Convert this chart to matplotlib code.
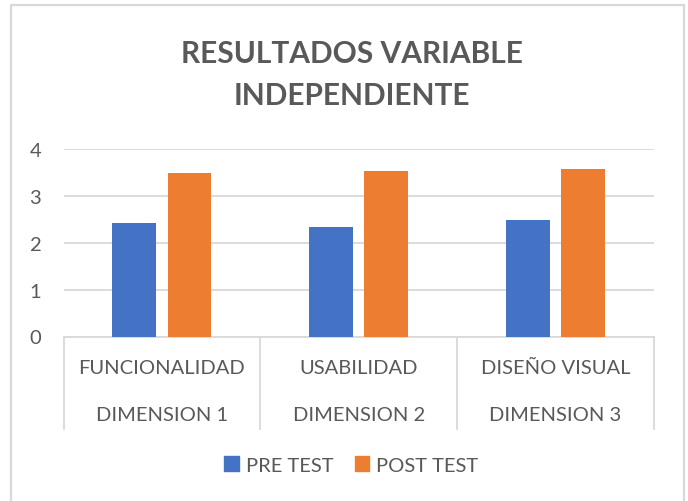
import matplotlib
matplotlib.use("Agg")
from matplotlib import pyplot as plt
from matplotlib.patches import Patch, Rectangle
import numpy as np

categories = ["FUNCIONALIDAD", "USABILIDAD", "DISEÑO VISUAL"]
dimensions = ["DIMENSION 1", "DIMENSION 2", "DIMENSION 3"]
pre_test = [2.42, 2.35, 2.50]
post_test = [3.49, 3.53, 3.57]
series_names = ["PRE TEST", "POST TEST"]
title_lines = ["RESULTADOS VARIABLE", "INDEPENDIENTE"]

blue = "#4472C4"
orange = "#ED7D31"
text_gray = "#595959"
grid_gray = "#D9D9D9"

plt.rcParams["font.family"] = ["Lato", "DejaVu Sans"]

fig = plt.figure(figsize=(6.88, 5.02), dpi=100)
fig.patch.set_facecolor("white")
fig.patches.append(Rectangle((11.5 / 688, -0.01), (683.5 - 11.5) / 688, 1 - 6 / 502 + 0.01,
                             transform=fig.transFigure, fill=False,
                             edgecolor=grid_gray, linewidth=1.6))

ax = fig.add_axes([63.5 / 688, (502 - 337.5) / 502, (654 - 63.5) / 688, (337.5 - 150.3) / 502])

x = np.arange(len(categories))
bw = 0.223
off = 0.14
ax.bar(x - off, pre_test, bw, color=blue, zorder=3)
ax.bar(x + off, post_test, bw, color=orange, zorder=3)

ax.set_xlim(-0.5, len(categories) - 0.5)
ax.set_ylim(0, 4)
ax.set_yticks([0, 1, 2, 3, 4])
ax.yaxis.grid(True, color=grid_gray, linewidth=1.3, zorder=0)
ax.tick_params(axis="y", length=0, pad=16, labelsize=14.5, labelcolor=text_gray)
ax.set_xticks([])
for s in ["top", "right", "left"]:
    ax.spines[s].set_visible(False)
ax.spines["bottom"].set_color(grid_gray)
ax.spines["bottom"].set_linewidth(1.3)

# multi-level category axis
trans = ax.get_xaxis_transform()
for xs in np.arange(-0.5, len(categories), 1.0):
    ax.plot([xs, xs], [0, -0.494], transform=trans, color=grid_gray, linewidth=1.3, clip_on=False)
for i in range(len(categories)):
    ax.text(x[i], -0.163, categories[i], transform=trans, ha="center", va="center",
            fontsize=14.5, color=text_gray)
    ax.text(x[i], -0.414, dimensions[i], transform=trans, ha="center", va="center",
            fontsize=14.5, color=text_gray)

fig.text(351.5 / 688, 1 - 63.3 / 502, title_lines[0], ha="center", va="baseline",
         fontsize=21.5, fontweight="bold", color=text_gray)
fig.text(351.5 / 688, 1 - 105 / 502, title_lines[1], ha="center", va="baseline",
         fontsize=21.5, fontweight="bold", color=text_gray)

handles = [Patch(color=blue), Patch(color=orange)]
fig.legend(handles, series_names, loc="center", bbox_to_anchor=(351.5 / 688, 1 - 466 / 502),
           ncol=2, frameon=False, fontsize=14.5, labelcolor=text_gray,
           handlelength=0.7, handleheight=0.7, handletextpad=0.35, columnspacing=1.1)

plt.savefig("out.png", dpi=100, facecolor="white")
